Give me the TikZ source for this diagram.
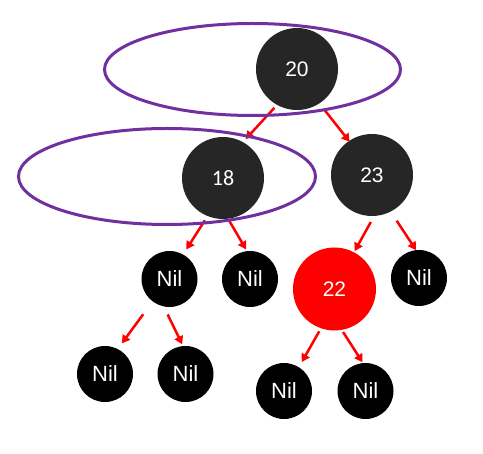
\documentclass[tikz,border=0pt]{standalone}
\usepackage{fontspec}
\setmainfont{Liberation Sans}
\newfontfamily\calfont{Carlito}
\usetikzlibrary{arrows.meta}
\definecolor{darknode}{HTML}{262626}
\definecolor{ringpurple}{HTML}{7030A0}
\tikzset{
  bignode/.style={circle, fill=darknode, text=white, minimum size=82pt, inner sep=0pt, outer sep=0pt, font=\fontsize{21}{23}\selectfont},
  rednode/.style={bignode, fill=red, minimum size=83pt},
  nilnode/.style={circle, fill=black, text=white, minimum size=56pt, inner sep=0pt, outer sep=0pt, font=\fontsize{22}{24}\selectfont},
  link/.style={draw=red, line width=2.5pt, -{Triangle[length=8pt,width=9pt]}},
  ring/.style={draw=ringpurple, line width=3pt}
}
\begin{document}
\begin{tikzpicture}[x=1pt,y=-1pt]
\useasboundingbox (0,0) rectangle (483,454);
% nodes
\node[bignode] (n20) at (297,69) {20};
\node[bignode] (n18) at (223,178) {\calfont\fontsize{22}{24}\selectfont 18};
\node[bignode] (n23) at (372,175) {23};
\node[rednode] (n22) at (334.5,289) {22};
\node[nilnode] (nil1) at (169.5,279) {Nil};
\node[nilnode] (nil2) at (250,279) {Nil};
\node[nilnode] (nil3) at (419,278) {Nil};
\node[nilnode] (nil4) at (105,374) {Nil};
\node[nilnode] (nil5) at (185.5,374) {Nil};
\node[nilnode] (nil6) at (284,391) {Nil};
\node[nilnode] (nil7) at (365.5,391) {Nil};
% connectors
\draw[link, shorten <=4pt, shorten >=4pt] (n20.241) -- (n18.61);
\draw[link, shorten <=7pt, shorten >=-1pt] (n20.-57) -- (n23.124);
\draw[link, shorten <=5pt, shorten >=6pt] (n18.248) -- (nil1.61);
\draw[link, shorten <=3pt, shorten >=2pt] (n18.-83) -- (nil2.96);
\draw[link, shorten <=7pt, shorten >=1.5pt] (n23.-87) -- (n22.62);
\draw[link, shorten <=11pt, shorten >=0pt] (n23.-63) -- (nil3.96);
\draw[link, shorten <=16pt, shorten >=7pt] (nil1.233) -- (nil4.63);
\draw[link, shorten <=9pt, shorten >=2pt] (nil1.-102) -- (nil5.95);
\draw[link, shorten <=3.5pt, shorten >=6pt] (n22.-109) -- (nil6.58);
\draw[link, shorten <=2.5pt, shorten >=1pt] (n22.-80) -- (nil7.95);
% highlight rings
\draw[ring] (252.5,69.5) ellipse [x radius=148, y radius=46];
\draw[ring] (167,176.5) ellipse [x radius=148.5, y radius=48];
\end{tikzpicture}
\end{document}
